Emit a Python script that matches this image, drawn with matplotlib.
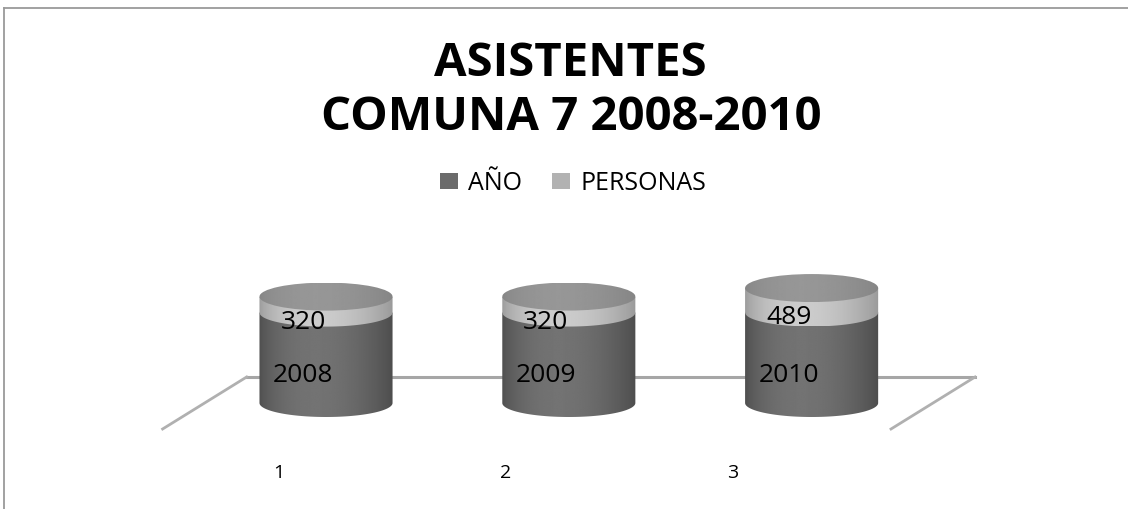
import numpy as np
import matplotlib
matplotlib.use("Agg")
import matplotlib.pyplot as plt
from matplotlib.path import Path
from matplotlib.patches import PathPatch, Patch, Ellipse
from matplotlib.lines import Line2D
from matplotlib.transforms import offset_copy, blended_transform_factory

# data
categories = [1, 2, 3]
anio = [2008, 2009, 2010]
personas = [320, 320, 489]
series_names = ["AÑO", "PERSONAS"]
title_lines = ["ASISTENTES", "COMUNA 7 2008-2010"]

# value axis starts above zero, like the excel chart
AXIS_MIN = 200

# cylinder look
HALF_W = 0.274       # half width, category units
ELL_H = 280          # half height of the end ellipses, value units
DEPTH_DX = 0.173     # floor depth shift (category units)
DEPTH_DY = 520       # floor depth shift (value units)

plt.rcParams['font.family'] = ['Open Sans', 'DejaVu Sans']

fig = plt.figure(figsize=(11.28, 5.09), dpi=100)
ax = fig.add_axes([0, 0, 1, 1])
ax.axis('off')


def gradient(lo, hi):
    u = np.linspace(0, 1, 256)
    prof = np.sin(np.pi * u ** 0.8) ** 0.8
    return np.tile(lo + (hi - lo) * prof, (2, 1))


def side(cx, y0, y1, lo, hi, z):
    """side of one stacked segment: front arc at y0, straight top at y1"""
    t = np.linspace(np.pi, 2 * np.pi, 80)
    verts = [(cx - HALF_W, y1)] + list(zip(cx + HALF_W * np.cos(t), y0 + ELL_H * np.sin(t)))
    verts += [(cx + HALF_W, y1), (cx - HALF_W, y1)]
    patch = PathPatch(Path(verts), facecolor='none', edgecolor='none', transform=ax.transData)
    ax.add_patch(patch)
    im = ax.imshow(gradient(lo, hi), cmap='gray', vmin=0, vmax=1,
                   extent=[cx - HALF_W, cx + HALF_W, y0 - ELL_H, y1],
                   aspect='auto', interpolation='bilinear', zorder=z)
    im.set_clip_path(patch)


# floor (back edge and both sides)
x_left, x_right = categories[0] - 0.5, categories[-1] + 0.5
ax.plot([x_left + DEPTH_DX, x_right + DEPTH_DX], [AXIS_MIN + DEPTH_DY] * 2,
        color='#a6a6a6', lw=2.2, zorder=1)
for xe in (x_left, x_right):
    ax.plot([xe + DEPTH_DX, xe - DEPTH_DX], [AXIS_MIN + DEPTH_DY, AXIS_MIN - DEPTH_DY],
            color='#b0b0b0', lw=2.0, zorder=1)

label_tr = offset_copy(ax.transData, fig=fig, x=-23, y=-24, units='dots')

for i, cx in enumerate(categories):
    top_dark = anio[i]
    top = anio[i] + personas[i]
    side(cx, AXIS_MIN, top_dark, 0.30, 0.45, 2)
    side(cx, top_dark, top, 0.60, 0.80, 3)
    # top face
    ell = Ellipse((cx, top), 2 * HALF_W, 2 * ELL_H, facecolor='none', edgecolor='none',
                  transform=ax.transData)
    ax.add_patch(ell)
    im = ax.imshow(gradient(0.52, 0.59), cmap='gray', vmin=0, vmax=1,
                   extent=[cx - HALF_W, cx + HALF_W, top - ELL_H, top + ELL_H],
                   aspect='auto', interpolation='bilinear', zorder=4)
    im.set_clip_path(ell)
    # data labels
    ax.text(cx, (AXIS_MIN + top_dark) / 2, str(anio[i]), transform=label_tr,
            ha='center', va='baseline', fontsize=19, color='black', zorder=6)
    ax.text(cx, (top_dark + top) / 2, str(personas[i]), transform=label_tr,
            ha='center', va='baseline', fontsize=19, color='black', zorder=6)

ax.set_xlim(-0.3427, 4.303)
ax.set_ylim(-1920, 8260)

# category labels sit on the front of the floor (perspective spacing)
lab_ax = fig.add_axes([0, 0, 1, 1])
lab_ax.axis('off')
lab_ax.set_xlim(-0.229, 4.740)
tr = blended_transform_factory(lab_ax.transData, lab_ax.transAxes)
for c in categories:
    lab_ax.text(c, 1 - 478 / 509, str(c), transform=tr, ha='center', va='baseline',
                fontsize=14, color='black')

# title
fig.text(0.506, 1 - 76 / 509, title_lines[0], ha='center', va='baseline',
         fontsize=34, fontweight='bold')
fig.text(0.506, 1 - 130 / 509, title_lines[1], ha='center', va='baseline',
         fontsize=34, fontweight='bold')

# legend
handles = [Patch(facecolor='#6b6b6b'), Patch(facecolor='#b2b2b2')]
fig.legend(handles, series_names, loc='center', bbox_to_anchor=(0.508, 1 - 183 / 509),
           ncol=2, frameon=False, fontsize=18, handlelength=0.7, handleheight=0.62,
           handletextpad=0.42, columnspacing=1.2)

# chart area border (only top and left are visible in the crop)
fig.add_artist(Line2D([4 / 1128, 1], [1 - 8 / 509] * 2, transform=fig.transFigure,
                      color='#9a9a9a', lw=1.3))
fig.add_artist(Line2D([4 / 1128] * 2, [0, 1 - 8 / 509], transform=fig.transFigure,
                      color='#9a9a9a', lw=1.3))

fig.savefig('out.png', dpi=100, facecolor='white')
